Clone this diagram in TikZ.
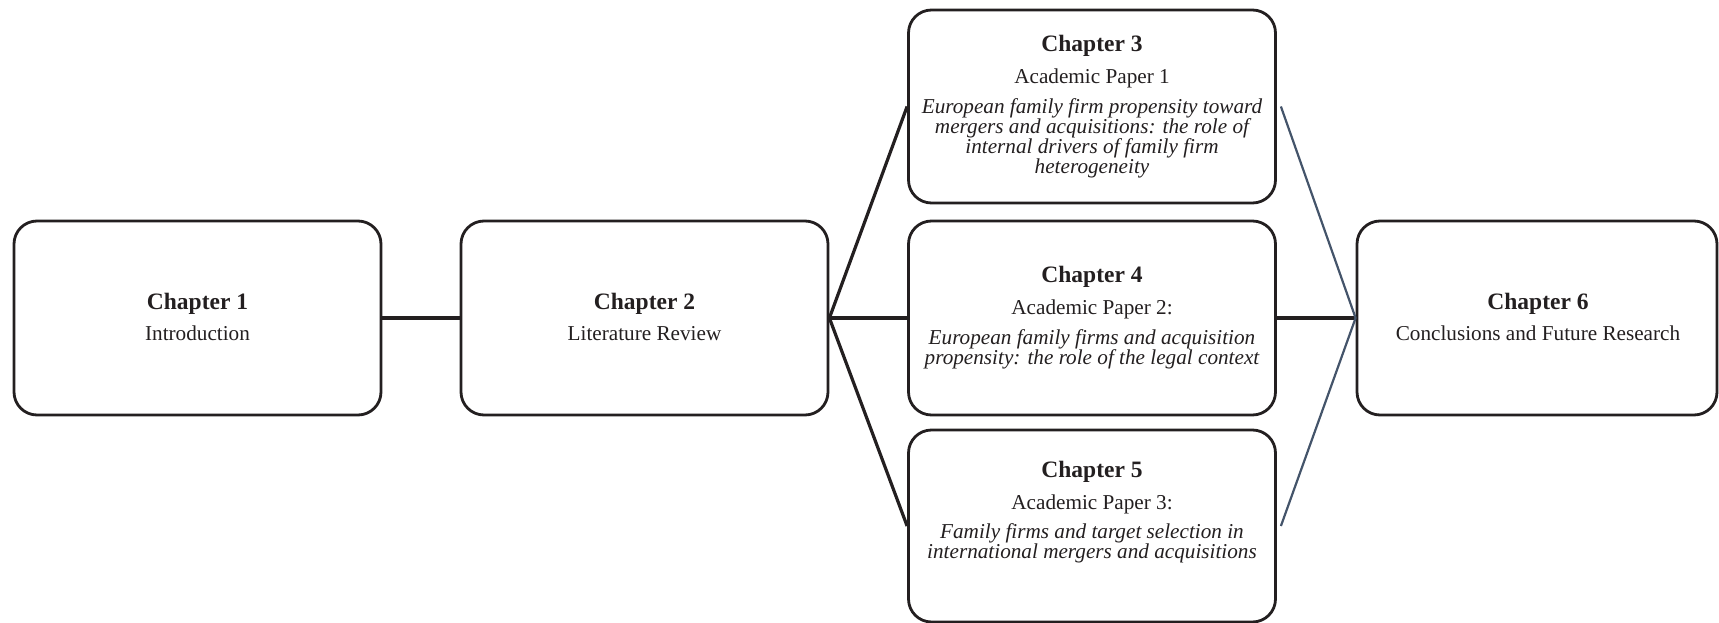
\documentclass[tikz,border=0pt]{standalone}
\usepackage{fontspec}
\setmainfont{Liberation Serif}
\definecolor{ink}{HTML}{231F20}
\definecolor{slate}{HTML}{44546A}
\tikzset{
  chbox/.style={draw=ink, line width=2.8pt, rounded corners=23pt, fill=white,
                minimum width=367pt, minimum height=194pt, inner sep=0pt},
  link/.style={draw=ink, line width=3.2pt},
  sidelink/.style={draw=slate, line width=2.2pt},
  ttl/.style={anchor=base, inner sep=0pt, text=ink, font=\fontsize{23.5}{24}\selectfont\bfseries},
  sub/.style={anchor=base, inner sep=0pt, text=ink, font=\fontsize{21.2}{22}\selectfont},
  itl/.style={anchor=base, inner sep=0pt, text=ink, font=\fontsize{21.2}{22}\selectfont\itshape},
}
\begin{document}
\begin{tikzpicture}[x=1pt, y=-1pt]
\useasboundingbox (0,0) rectangle (1719,623);

% chapter boxes
\node[chbox] (c1) at (197.5,318) {};
\node[chbox] (c2) at (644.5,318) {};
\node[chbox, minimum height=193pt] (c3) at (1092,106.5) {};
\node[chbox] (c4) at (1092,318) {};
\node[chbox, minimum height=192pt] (c5) at (1092,526) {};
\node[chbox, minimum width=360pt] (c6) at (1537,318) {};

% connectors
\draw[link] (c1.east) -- (c2.west);
\draw[link] (c2.east) -- (c3.west);
\draw[link] (c2.east) -- (c4.west);
\draw[link] (c2.east) -- (c5.west);
\draw[link] (c4.east) -- (c6.west);
\draw[sidelink] ([xshift=4pt]c3.east) -- (c6.west);
\draw[sidelink] ([xshift=4pt]c5.east) -- (c6.west);

% Chapter 1
\node[ttl] (t1a) at (197.5,309.5) {Chapter 1};
\node[sub] (t1b) at (197.5,340.5) {Introduction};

% Chapter 2
\node[ttl] (t2a) at (644.5,309.5) {Chapter 2};
\node[sub] (t2b) at (644.5,340.5) {Literature Review};

% Chapter 3
\node[ttl] (t3a) at (1092,51.7) {Chapter 3};
\node[sub] (t3b) at (1092,83.3) {Academic Paper 1};
\node[itl] (t3c) at (1092,113.3) {European family firm propensity toward};
\node[itl] (t3d) at (1092,133.3) {mergers and acquisitions: the role of};
\node[itl] (t3e) at (1092,153.3) {internal drivers of family firm};
\node[itl] (t3f) at (1092,173.3) {heterogeneity};

% Chapter 4
\node[ttl] (t4a) at (1092,282.7) {Chapter 4};
\node[sub] (t4b) at (1092,314.5) {Academic Paper 2:};
\node[itl] (t4c) at (1092,344) {European family firms and acquisition};
\node[itl] (t4d) at (1092,364) {propensity: the role of the legal context};

% Chapter 5
\node[ttl] (t5a) at (1092,477.5) {Chapter 5};
\node[sub] (t5b) at (1092,509) {Academic Paper 3:};
\node[itl] (t5c) at (1092,538.3) {Family firms and target selection in};
\node[itl] (t5d) at (1092,558.3) {international mergers and acquisitions};

% Chapter 6
\node[ttl] (t6a) at (1538,309.5) {Chapter 6};
\node[sub] (t6b) at (1538,340.5) {Conclusions and Future Research};
\end{tikzpicture}
\end{document}
